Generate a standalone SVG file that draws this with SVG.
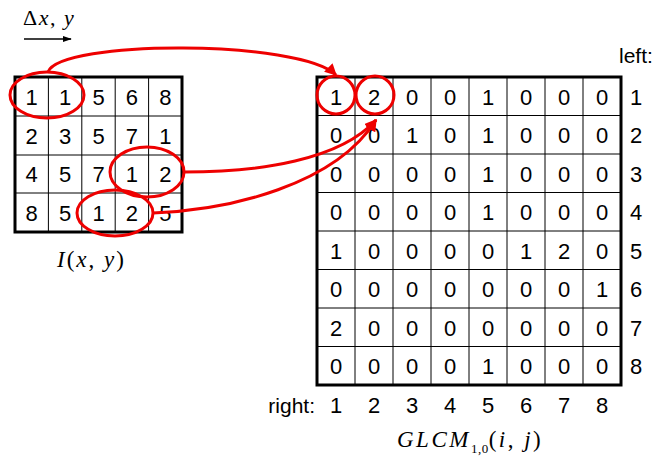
<svg xmlns="http://www.w3.org/2000/svg" width="657" height="464" viewBox="0 0 657 464">
<style>
.n{font-family:"Liberation Sans",Arial,sans-serif;font-size:22px;fill:#000;text-anchor:middle}
.m{font-family:"Liberation Serif","Times New Roman",serif;font-size:23px;fill:#000;letter-spacing:2px}
.grid{stroke:#000;stroke-width:1;fill:none}
.frame{stroke:#000;stroke-width:3;fill:none}
.red{stroke:#ee0000;stroke-width:3;fill:none}
</style>
<defs>
<marker id="ar" viewBox="0 0 10 10" refX="9" refY="5" markerWidth="4" markerHeight="4" orient="auto"><path d="M0,0L10,5L0,10z" fill="#ee0000"/></marker>
<marker id="ab" viewBox="0 0 10 10" refX="9" refY="5" markerWidth="9" markerHeight="9" orient="auto" markerUnits="userSpaceOnUse"><path d="M0,1.5L10,5L0,8.5z" fill="#000"/></marker>
</defs>

<g id="delta">
<text class="m" x="23" y="25" style="font-size:22px;letter-spacing:1.5px">Δ<tspan font-style="italic">x</tspan>, <tspan font-style="italic">y</tspan></text>
<line x1="24" y1="39" x2="71" y2="39" stroke="#000" stroke-width="1.5" marker-end="url(#ab)"/>
</g>

<g id="image">
<path class="grid" d="M48.4,77V232M81.8,77V232M115.2,77V232M148.6,77V232M15,116H182M15,155H182M15,193H182"/>
<rect class="frame" x="15" y="77" width="167" height="155"/>
<g class="n">
<text x="31.7" y="104.5">1</text><text x="65.1" y="104.5">1</text><text x="98.5" y="104.5">5</text><text x="131.9" y="104.5">6</text><text x="165.3" y="104.5">8</text>
<text x="31.7" y="143.5">2</text><text x="65.1" y="143.5">3</text><text x="98.5" y="143.5">5</text><text x="131.9" y="143.5">7</text><text x="165.3" y="143.5">1</text>
<text x="31.7" y="182">4</text><text x="65.1" y="182">5</text><text x="98.5" y="182">7</text><text x="131.9" y="182">1</text><text x="165.3" y="182">2</text>
<text x="31.7" y="220.5">8</text><text x="65.1" y="220.5">5</text><text x="98.5" y="220.5">1</text><text x="131.9" y="220.5">2</text><text x="165.3" y="220.5">5</text>
</g>
<text class="m" x="57" y="267" font-style="italic">I<tspan font-style="normal">(</tspan>x<tspan font-style="normal">, </tspan>y<tspan font-style="normal">)</tspan></text>
</g>

<g id="glcm">
<path class="grid" d="M355,77V385M393,77V385M431,77V385M469,77V385M507,77V385M545,77V385M583,77V385M317,115.5H621M317,154H621M317,192.5H621M317,231H621M317,269.5H621M317,308H621M317,346.5H621"/>
<rect class="frame" x="317" y="77" width="304" height="308"/>
<g class="n">
<text x="336" y="104.5">1</text><text x="374" y="104.5">2</text><text x="412" y="104.5">0</text><text x="450" y="104.5">0</text><text x="488" y="104.5">1</text><text x="526" y="104.5">0</text><text x="564" y="104.5">0</text><text x="602" y="104.5">0</text>
<text x="336" y="143">0</text><text x="374" y="143">0</text><text x="412" y="143">1</text><text x="450" y="143">0</text><text x="488" y="143">1</text><text x="526" y="143">0</text><text x="564" y="143">0</text><text x="602" y="143">0</text>
<text x="336" y="181.5">0</text><text x="374" y="181.5">0</text><text x="412" y="181.5">0</text><text x="450" y="181.5">0</text><text x="488" y="181.5">1</text><text x="526" y="181.5">0</text><text x="564" y="181.5">0</text><text x="602" y="181.5">0</text>
<text x="336" y="220">0</text><text x="374" y="220">0</text><text x="412" y="220">0</text><text x="450" y="220">0</text><text x="488" y="220">1</text><text x="526" y="220">0</text><text x="564" y="220">0</text><text x="602" y="220">0</text>
<text x="336" y="258.5">1</text><text x="374" y="258.5">0</text><text x="412" y="258.5">0</text><text x="450" y="258.5">0</text><text x="488" y="258.5">0</text><text x="526" y="258.5">1</text><text x="564" y="258.5">2</text><text x="602" y="258.5">0</text>
<text x="336" y="297">0</text><text x="374" y="297">0</text><text x="412" y="297">0</text><text x="450" y="297">0</text><text x="488" y="297">0</text><text x="526" y="297">0</text><text x="564" y="297">0</text><text x="602" y="297">1</text>
<text x="336" y="335.5">2</text><text x="374" y="335.5">0</text><text x="412" y="335.5">0</text><text x="450" y="335.5">0</text><text x="488" y="335.5">0</text><text x="526" y="335.5">0</text><text x="564" y="335.5">0</text><text x="602" y="335.5">0</text>
<text x="336" y="374">0</text><text x="374" y="374">0</text><text x="412" y="374">0</text><text x="450" y="374">0</text><text x="488" y="374">1</text><text x="526" y="374">0</text><text x="564" y="374">0</text><text x="602" y="374">0</text>
</g>
<text class="n" x="619" y="63" style="text-anchor:start;font-size:21px">left:</text>
<g class="n">
<text x="636" y="104.5">1</text><text x="636" y="143">2</text><text x="636" y="181.5">3</text><text x="636" y="220">4</text><text x="636" y="258.5">5</text><text x="636" y="297">6</text><text x="636" y="335.5">7</text><text x="636" y="374">8</text>
</g>
<text class="n" x="315" y="413" style="text-anchor:end;font-size:21px">right:</text>
<g class="n">
<text x="336" y="413">1</text><text x="374" y="413">2</text><text x="412" y="413">3</text><text x="450" y="413">4</text><text x="488" y="413">5</text><text x="526" y="413">6</text><text x="564" y="413">7</text><text x="602" y="413">8</text>
</g>
<text class="m" x="397" y="447" font-style="italic" style="letter-spacing:2.5px">GLCM<tspan font-style="normal" font-size="13" dy="6" style="letter-spacing:0.5px">1,0</tspan><tspan font-style="normal" dy="-6">(</tspan>i<tspan font-style="normal">, </tspan>j<tspan font-style="normal">)</tspan></text>
</g>

<g id="highlights">
<ellipse class="red" cx="47" cy="95" rx="37" ry="23"/>
<ellipse class="red" cx="147" cy="172" rx="37" ry="25"/>
<ellipse class="red" cx="115" cy="213" rx="38" ry="23"/>
<circle class="red" cx="336" cy="95" r="19"/>
<circle class="red" cx="375" cy="95" r="19"/>
</g>

<g id="connectors">
<path class="red" d="M48,72C60,39.5 300,39.5 336,75" marker-end="url(#ar)"/>
<path class="red" d="M184,172C260,172 340,160 376,120" marker-end="url(#ar)"/>
<path class="red" d="M153,213C230,210 335,185 376,120" marker-end="url(#ar)"/>
</g>
</svg>
